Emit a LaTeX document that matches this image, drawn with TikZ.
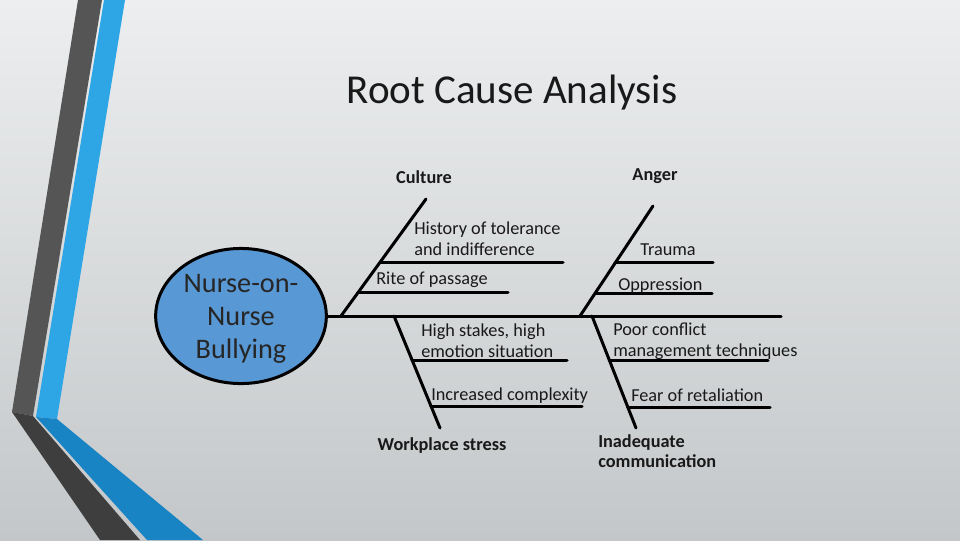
\documentclass[tikz,border=0pt]{standalone}
\usepackage{fontspec}
\setmainfont{Carlito}
\usetikzlibrary{calc,shapes.geometric}
\definecolor{bgtop}{RGB}{236,238,239}
\definecolor{bgbot}{RGB}{196,199,201}
\definecolor{stripedark}{RGB}{85,85,85}
\definecolor{stripedeep}{RGB}{62,62,62}
\definecolor{stripeblue}{RGB}{46,166,230}
\definecolor{stripenavy}{RGB}{24,132,196}
\definecolor{headblue}{RGB}{88,152,212}
\tikzset{bone/.style={line width=2.25pt,line cap=round},
	cause/.style={font=\fontsize{13.7}{15.5}\selectfont\bfseries,inner sep=0,text=black!90},
	item/.style={font=\fontsize{13.7}{15.75}\selectfont,inner sep=0,align=left,anchor=west,text=black!90}}

\begin{document}
\begin{tikzpicture}[x=0.75pt,y=-0.75pt]
	\useasboundingbox (0,0) rectangle (960,540);
	
	% background and side stripes
	\shade[top color=bgtop,bottom color=bgbot] (0,0) rectangle (960,540);
	\fill[stripedark] (78,0) -- (102,0) -- (33,416) -- (12,412) -- cycle;
	\fill[stripeblue] (104,0) -- (125,0) -- (57,419) -- (36,417) -- cycle;
	\fill[stripedeep] (12,412) -- (33,416) -- (140,540) -- (100,540) -- cycle;
	\fill[stripenavy] (36,417) -- (57,419) -- (203,540) -- (147,540) -- cycle;
	
	\node[font=\fontsize{30.8}{36}\selectfont,text=black!90] (title) at (512,93) {Root Cause Analysis};
	
	\node[ellipse,draw,line width=2.25pt,fill=headblue,minimum width=128pt,minimum height=100pt,
	inner sep=0,align=center,font=\fontsize{21.2}{25}\selectfont,text=black!85] (bully) at (241,316) {\rule{0pt}{18pt}Nurse-on-\\Nurse\\Bullying};
	
	\coordinate (S1) at (781,316);
	
	\coordinate (CB0) at (341,316);
	\coordinate (CB1) at (426,199);
	\coordinate (WB0) at (394,316);
	\coordinate (WB1) at (440,428);
	\coordinate (AB0) at (580,316);
	\coordinate (AB1) at (653,206);
	\coordinate (MB0) at (592,316);
	\coordinate (MB1) at (636,428);
	
	\coordinate (CR1) at ($(CB0)!.46!(CB1)$);
	\coordinate (CR2) at ($(CB0)!.197!(CB1)$);
	\coordinate (WR1) at ($(WB0)!.393!(WB1)$);
	\coordinate (WR2) at ($(WB0)!.804!(WB1)$);
	\coordinate (AR1) at ($(AB0)!.482!(AB1)$);
	\coordinate (AR2) at ($(AB0)!.209!(AB1)$);
	\coordinate (MR1) at ($(MB0)!.393!(MB1)$);
	\coordinate (MR2) at ($(MB0)!.8125!(MB1)$);
	
	\coordinate (CE1) at (563,0 |- CR1);
	\coordinate (CE2) at (508,0 |- CR2);
	\coordinate (WE1) at (567,0 |- WR1);
	\coordinate (WE2) at (582,0 |- WR2);
	\coordinate (AE1) at (713,0 |- AR1);
	\coordinate (AE2) at (712,0 |- AR2);
	\coordinate (ME1) at (768,0 |- MR1);
	\coordinate (ME2) at (770,0 |- MR2);
	
	\draw[bone] (bully) -- (S1); % spine
	
	\draw[bone] (CB0) -- (CB1); % culture
	\draw[bone] (CR1) -- (CE1);
	\draw[bone] (CR2) -- (CE2);
	
	\draw[bone] (WB0) -- (WB1); % workplace stress
	\draw[bone] (WR1) -- (WE1);
	\draw[bone] (WR2) -- (WE2);
	
	\draw[bone] (AB0) -- (AB1); % anger
	\draw[bone] (AR1) -- (AE1);
	\draw[bone] (AR2) -- (AE2);
	
	\draw[bone] (MB0) -- (MB1); % communication
	\draw[bone] (MR1) -- (ME1);
	\draw[bone] (MR2) -- (ME2);
	
	\node[cause] (culture) at (424,177) {Culture};
	\node[cause] (anger) at (655,176) {Anger};
	\node[cause] (stress) at (442,446) {Workplace stress};
	\node[cause,align=left,anchor=west] (comm) at (598,451) {Inadequate\\communication};
	
	\node[item] (hist) at (414,239) {History of tolerance\\and indifference};
	\node[item] (rite) at (376,280) {Rite of passage};
	\node[item] (high) at (421,341) {High stakes, high\\emotion situation};
	\node[item] (incr) at (431,396) {Increased complexity};
	\node[item] (trauma) at (640,250) {Trauma};
	\node[item] (oppr) at (618,286) {Oppression};
	\node[item] (poor) at (613,341) {Poor conflict\\management techniques};
	\node[item] (fear) at (631,395) {Fear of retaliation};
\end{tikzpicture}
\end{document}
